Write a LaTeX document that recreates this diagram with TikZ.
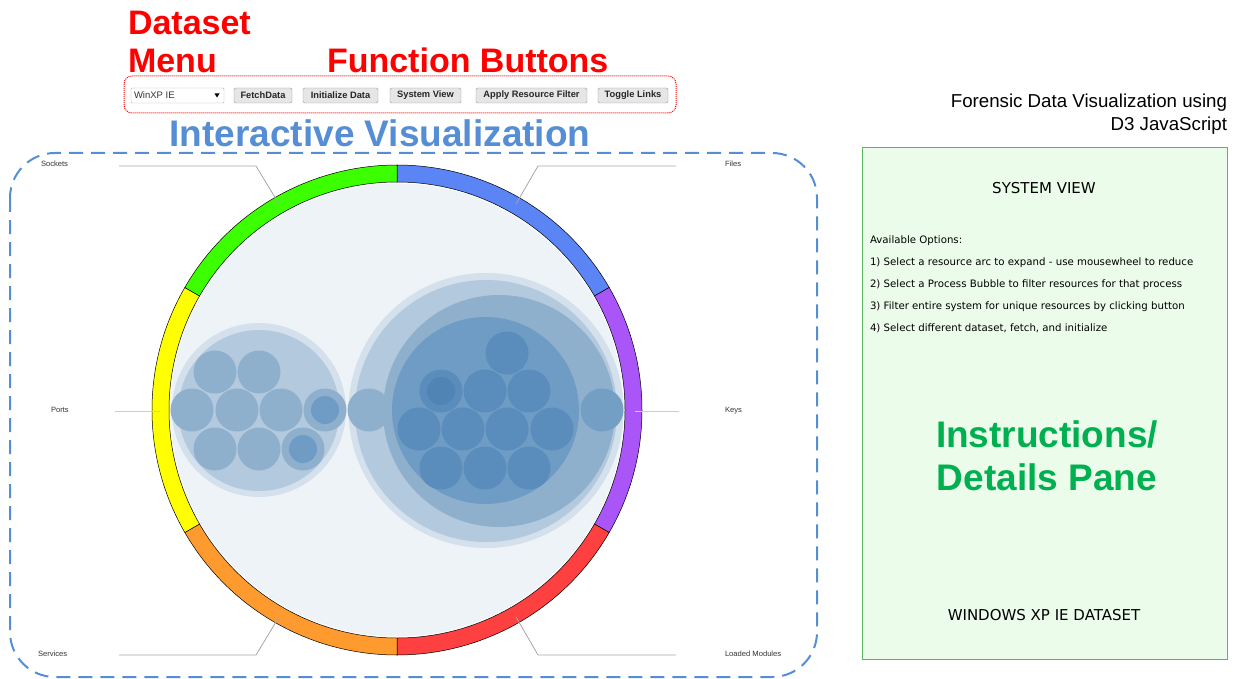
\documentclass[tikz,border=0pt]{standalone}
\usepackage{fontspec}
\setmainfont{Liberation Sans}
\newfontfamily\verd{DejaVu Sans}
\definecolor{titleblue}{HTML}{558ED5}
\definecolor{titlegreen}{HTML}{00B050}
\definecolor{panelfill}{HTML}{EBFDEA}
\definecolor{panelline}{HTML}{5CB85C}
\definecolor{innerbg}{HTML}{EEF3F8}
\definecolor{bA}{HTML}{D4E0EB}
\definecolor{bB}{HTML}{B3C9DE}
\definecolor{bC}{HTML}{8FB0CD}
\definecolor{bD}{HTML}{6F9CC4}
\definecolor{bE}{HTML}{5A8DBC}
\definecolor{bF}{HTML}{4F84B5}
\definecolor{rgreen}{HTML}{3CFF00}
\definecolor{rblue}{HTML}{5B84F5}
\definecolor{rpurple}{HTML}{AA55F7}
\definecolor{rred}{HTML}{FF4040}
\definecolor{rorange}{HTML}{FF9A2E}
\definecolor{ryellow}{HTML}{FFFF00}
\definecolor{btnfill}{HTML}{E6E6E6}
\definecolor{labeltext}{HTML}{333333}
\tikzset{
  bigred/.style={text=red, font=\fontsize{34}{38}\selectfont\bfseries, anchor=base west},
  btn/.style={draw=gray!80, fill=btnfill, rounded corners=1.5pt, minimum height=15pt, font=\fontsize{9.3}{11}\selectfont\bfseries, text=black!85},
  lbl/.style={font=\fontsize{7.6}{9}\selectfont, text=labeltext, anchor=base west},
  leader/.style={draw=gray!70, line width=0.8pt},
  opt/.style={font=\verd\fontsize{10.2}{12}\selectfont, anchor=base west},
  seg/.style={draw=black, line width=0.5pt},
}
\begin{document}
\begin{tikzpicture}[x=1pt,y=-1pt, every node/.style={inner sep=0pt, outer sep=0pt}]
\useasboundingbox (0,0) rectangle (1239,679);

% headings
\node[bigred] (ds1) at (128,35) {Dataset};
\node[bigred] (ds2) at (128,73) {Menu};
\node[bigred] (fb) at (327,73) {Function Buttons};

% toolbar
\draw[red, densely dotted, line width=1pt, rounded corners=8pt] (124,76) rectangle (676,113);
\node[draw=gray!60, fill=white, minimum width=93pt, minimum height=15pt, rounded corners=1pt] (menu) at (177.5,95.5) {};
\node[anchor=west, font=\fontsize{9.5}{11}\selectfont, text=black!80] (menutxt) at (134,95.5) {WinXP IE};
\fill[black] (214.5,93.5) -- (219.5,93.5) -- (217,97.5) -- cycle;
\node[btn, minimum width=58pt] (b1) at (263,95.5) {FetchData};
\node[btn, minimum width=75pt] (b2) at (340.5,95.5) {Initialize Data};
\node[btn, minimum width=71pt] (b3) at (425.5,95.5) {System View};
\node[btn, minimum width=111pt] (b4) at (531.5,95.5) {Apply Resource Filter};
\node[btn, minimum width=70pt] (b5) at (633,95.5) {Toggle Links};

% visualization frame
\draw[titleblue, line width=2pt, dash pattern=on 14pt off 8pt, rounded corners=45pt] (10,153) rectangle (817,677);
\node[anchor=base, text=titleblue, font=\fontsize{37}{40}\selectfont\bfseries] (ivtitle) at (380,147) {Interactive Visualization};

% inner background circle
\fill[innerbg] (397,410) circle[radius=226.5];

% left bubble group
\fill[bA] (259,410) circle[radius=87];
\fill[bB] (259,410.5) circle[radius=80.5];
\foreach \x/\y in {215/372, 259/372, 192/410, 237/410, 281/410, 325/410, 215/449, 259/449, 303/449}
  \fill[bC] (\x,\y) circle[radius=21.5];
\fill[bD] (325,410) circle[radius=14];
\fill[bD] (303,449) circle[radius=14];

% right bubble group
\fill[bA] (486,410.5) circle[radius=137.5];
\fill[bB] (486,411) circle[radius=131];
\fill[bC] (499,411) circle[radius=116];
\fill[bD] (485.5,410.5) circle[radius=93.5];
\fill[bC] (369,410) circle[radius=21.5];
\fill[bD!85!bC] (602,410) circle[radius=21.5];
\foreach \x/\y in {507/353, 441/391, 485/391, 529/391, 419/429, 463/429, 507/429, 552/429, 441/468, 485/468, 529/468}
  \fill[bE] (\x,\y) circle[radius=21.5];
\fill[bF] (441,391) circle[radius=14];

% resource ring
\begin{scope}[shift={(397,410)}, y=1pt]
  \foreach \a/\b/\c in {90/30/rblue, 30/-30/rpurple, -30/-90/rred, -90/-150/rorange, -150/-210/ryellow, 150/90/rgreen}
    \filldraw[seg, fill=\c] (\a:245) arc[start angle=\a, end angle=\b, radius=245] -- (\b:228) arc[start angle=\b, end angle=\a, radius=228] -- cycle;
\end{scope}

% leader lines
\coordinate (sk1) at (119,166); \coordinate (sk2) at (256,166); \coordinate (sk3) at (279,204);
\coordinate (fi1) at (676,166); \coordinate (fi2) at (538,166); \coordinate (fi3) at (516,204);
\coordinate (po1) at (115,411); \coordinate (po2) at (160,411);
\coordinate (ke1) at (635,411); \coordinate (ke2) at (679,411);
\coordinate (se1) at (119,655); \coordinate (se2) at (256,655); \coordinate (se3) at (279,617);
\coordinate (lm1) at (676,655); \coordinate (lm2) at (538,655); \coordinate (lm3) at (516,617);
\draw[leader] (sk1) -- (sk2) -- (sk3);
\draw[leader] (fi1) -- (fi2) -- (fi3);
\draw[leader, draw=gray!40] (po1) -- (po2);
\draw[leader, draw=gray!40] (ke1) -- (ke2);
\draw[leader] (se1) -- (se2) -- (se3);
\draw[leader] (lm1) -- (lm2) -- (lm3);

\node[lbl] (lsock) at (41,167) {Sockets};
\node[lbl] (lfile) at (725,167) {Files};
\node[lbl] (lport) at (51,412) {Ports};
\node[lbl] (lkeys) at (725,412) {Keys};
\node[lbl] (lserv) at (38,656) {Services};
\node[lbl] (lmods) at (725,656) {Loaded Modules};

% header right
\node[anchor=base east, font=\fontsize{18.7}{22}\selectfont] (fd1) at (1227,108) {Forensic Data Visualization using};
\node[anchor=base east, font=\fontsize{18.7}{22}\selectfont] (fd2) at (1227,131) {D3 JavaScript};

% details pane
\draw[panelline, fill=panelfill, line width=1pt] (862,148) rectangle (1227,659);
\node[anchor=base, font=\verd\fontsize{15}{18}\selectfont] (sv) at (1044,194) {SYSTEM VIEW};
\node[opt] (o0) at (870,243) {Available Options:};
\node[opt] (o1) at (870,265) {1) Select a resource arc to expand - use mousewheel to reduce};
\node[opt] (o2) at (870,287) {2) Select a Process Bubble to filter resources for that process};
\node[opt] (o3) at (870,309) {3) Filter entire system for unique resources by clicking button};
\node[opt] (o4) at (870,331) {4) Select different dataset, fetch, and initialize};
\node[anchor=base, text=titlegreen, font=\fontsize{37}{40}\selectfont\bfseries] (ins1) at (1047,447) {Instructions/};
\node[anchor=base, text=titlegreen, font=\fontsize{37}{40}\selectfont\bfseries] (ins2) at (1047,490) {Details Pane};
\node[anchor=base, font=\verd\fontsize{15}{18}\selectfont] (wx) at (1044,620) {WINDOWS XP IE DATASET};
\end{tikzpicture}
\end{document}
